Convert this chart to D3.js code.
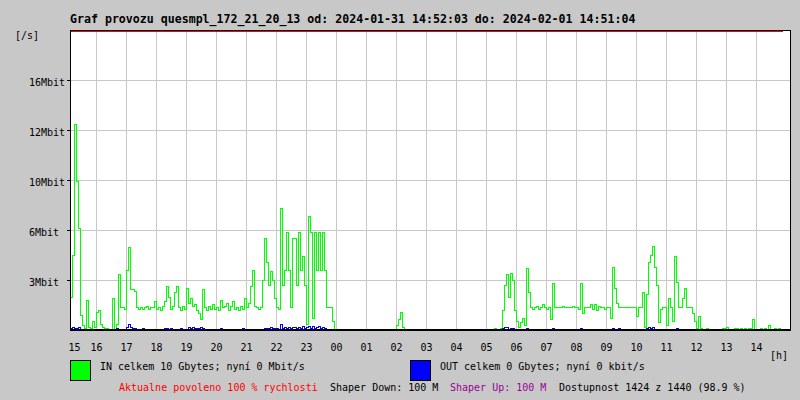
<!DOCTYPE html>
<html><head><meta charset="utf-8">
<script src="https://cdn.jsdelivr.net/npm/d3@7"></script>
<style>
html,body{margin:0;padding:0;background:#c8c8c8;}
svg{display:block;}
text{font-family:"DejaVu Sans Mono",monospace;font-size:10px;fill:#000;}
</style>
</head><body>
<svg id="c" width="800" height="400"></svg>
<script>
// ---------------- data ----------------
const title = "Graf provozu quesmpl_172_21_20_13 od: 2024-01-31 14:52:03 do: 2024-02-01 14:51:04";
const hourValues = [15,16,17,18,19,20,21,22,23,24,25,26,27,28,29,30,31,32,33,34,35,36,37,38];
const hourLabels = ["15","16","17","18","19","20","21","22","23","00","01","02","03","04","05","06","07","08","09","10","11","12","13","14"];
const yTickValues = [10/3, 20/3, 10, 40/3, 50/3];
const yTickLabels = ["3Mbit","6Mbit","10Mbit","12Mbit","16Mbit"];
const startHour = 15 + 7/60;      // left edge of the plot
const stepHours = 4/60;           // one sample per 4 minutes
// IN traffic (Mbit/s)
const inMbit = [
2.2,5.0,13.7,9.9,6.8,1.0,0.3,0.1,2.0,0.2,
0.1,0.6,0.2,1.2,1.3,0.4,0.2,0.1,0.1,0,
0,2.1,0,0.4,3.7,1.5,1.5,1.4,4.0,5.5,
2.7,2.7,2.6,1.5,1.4,1.5,1.4,1.5,1.6,1.4,
1.5,1.5,1.9,1.4,1.5,1.3,1.6,1.9,2.9,2.2,
1.4,1.6,2.5,2.9,1.5,1.3,1.6,1.4,2.8,1.8,
2.1,1.6,1.7,1.3,1.1,0.7,2.7,1.5,1.3,1.6,
1.4,1.7,1.4,1.5,1.3,2.0,1.5,1.6,1.8,1.3,
1.6,1.9,1.4,1.5,1.3,1.6,1.4,2.1,1.5,1.8,
2.9,4.0,1.6,1.5,1.4,1.5,3.3,6.1,4.5,3.0,
3.9,3.3,2.1,1.5,1.4,8.1,3.0,4.0,6.5,4.0,
1.5,6.1,6.1,3.0,6.5,4.0,4.9,3.0,0.4,7.6,
6.5,0.8,6.5,4.0,6.5,4.0,6.5,4.0,1.5,1.5,
1.5,0.6,0,0,0,0,0,0,0,0,
0,0,0,0,0,0,0,0,0,0,
0,0,0,0,0,0,0,0,0,0,
0,0,0,0.3,0.7,1.2,0.2,0,0,0,
0,0,0,0,0,0,0,0,0,0,
0,0,0,0,0,0,0,0,0,0,
0,0,0,0,0,0,0,0,0,0,
0,0,0,0,0,0,0,0,0,0,
0,0,0.1,0,0,0.1,1.3,3.0,3.7,2.2,
3.8,3.3,1.3,0.6,0.2,0.5,0.8,0.3,4.1,2.5,
1.5,1.4,1.5,1.6,1.4,1.5,1.7,1.5,1.4,1.5,
0.7,3.1,1.5,1.5,1.5,1.5,1.6,1.5,1.5,1.5,
1.5,1.6,1.5,1.5,1.4,3.1,1.1,1.5,1.5,1.5,
1.7,1.4,1.7,1.3,1.6,1.5,1.5,1.4,1.5,1.5,
0.8,4.2,2.8,1.8,1.5,1.5,1.5,1.5,1.5,1.5,
1.5,1.5,1.5,0.9,1.5,1.5,2.5,0.2,2.4,4.5,
5.0,5.6,4.2,3.0,0.5,1.4,1.5,1.5,0.3,2.1,
1.5,0.6,4.9,3.2,1.5,1.5,2.1,2.8,1.5,1.5,
1.5,1.1,0.6,0.1,0.9,0.1,0,0,0.1,0,
0,0,0,0,0,0,0.1,0.1,0.2,0,
0,0,0.1,0.1,0,0.1,0,0.1,0,0.1,
0.1,0.7,0,0,0,0.1,0,0.1,0,0.3,
0,0,0.1,0,0.1,0,0
];
// OUT traffic (Mbit/s)
const outMbit = [
0.1,0.15,0.1,0.1,0.15,0.05,0,0,0,0,
0,0,0,0,0,0,0,0,0,0,
0,0,0,0.1,0,0,0,0,0.15,0.35,
0.15,0.1,0.1,0,0,0,0.1,0,0,0,
0,0,0,0,0,0,0,0.1,0.1,0,
0.1,0,0,0,0,0.1,0,0,0,0.15,
0.1,0.15,0.1,0.1,0.1,0.15,0.1,0,0,0,
0,0,0,0,0,0.1,0,0,0,0,
0,0,0,0,0,0,0.1,0,0,0,
0,0,0,0,0,0,0,0.1,0.1,0.1,
0.15,0.1,0.1,0.1,0,0.35,0.1,0.2,0.1,0.2,
0.1,0.15,0.2,0.1,0.2,0.1,0.25,0.1,0.2,0.25,
0.1,0.25,0.1,0.2,0.25,0.1,0.2,0.1,0,0,
0,0,0,0,0,0,0,0,0,0,
0,0,0,0,0,0,0,0,0,0,
0,0,0,0,0,0,0,0,0,0,
0,0,0,0,0,0,0,0,0,0,
0,0,0,0,0,0,0,0,0,0,
0,0,0,0,0,0,0,0,0,0,
0,0,0,0,0,0,0,0,0,0,
0,0,0,0,0,0,0,0,0,0,
0,0,0,0,0,0,0.1,0.15,0.15,0,
0.1,0.1,0,0,0,0,0,0,0.1,0,
0,0,0,0,0,0,0,0,0,0,
0,0.1,0,0,0,0,0,0,0,0,
0,0,0,0,0,0.1,0,0,0,0,
0,0,0,0,0,0,0,0,0,0,
0,0.1,0,0,0.1,0,0,0,0,0,
0,0,0,0,0,0,0,0,0.1,0.15,
0.1,0.15,0,0,0,0,0,0,0,0,
0,0,0,0.1,0,0,0,0,0,0,
0,0,0,0,0,0,0,0,0,0,
0,0,0,0,0,0,0,0,0,0,
0,0,0,0,0,0,0,0,0,0,
0,0,0,0,0,0,0,0,0,0,
0,0,0,0,0,0,0
];
const legendLabels = ["IN celkem 10 Gbytes; nyní 0 Mbit/s", "OUT celkem 0 Gbytes; nyní 0 kbit/s"];
const legendColors = ["#00ff00", "#0000ff"];
const footerTexts = ["Aktualne povoleno 100 % rychlosti", "Shaper Down: 100 M", "Shaper Up: 100 M", "Dostupnost 1424 z 1440 (98.9 %)"];
const footerColors = ["#ff0000", "#000000", "#990099", "#000000"];
const yUnit = "[/s]";
const xUnit = "[h]";

// ---------------- drawing ----------------
const svg = d3.select("#c");
const P = {l:70, r:790, t:30, b:330};
const x = d3.scaleLinear().domain([startHour, startHour + 24]).range([P.l, P.r]);
const y = d3.scaleLinear().domain([0, 20]).range([P.b, P.t]);
const tOf = i => startHour + i * stepHours;

svg.append("rect").attr("width", 800).attr("height", 400).attr("fill", "#c8c8c8");
svg.append("rect").attr("x", P.l).attr("y", P.t).attr("width", P.r - P.l).attr("height", P.b - P.t).attr("fill", "#ffffff");

const grid = svg.append("g").attr("stroke", "#c8c8c8").attr("stroke-width", 1).attr("shape-rendering", "crispEdges");
grid.selectAll("line.v").data(hourValues.filter(h => x(h) > P.l)).join("line")
  .attr("x1", d => x(d)).attr("x2", d => x(d)).attr("y1", P.t).attr("y2", P.b);
grid.selectAll("line.h").data(yTickValues).join("line")
  .attr("x1", P.l).attr("x2", P.r).attr("y1", d => Math.round(y(d)) + 0.5).attr("y2", d => Math.round(y(d)) + 0.5);

const line = d3.line().x((d, i) => x(tOf(i)) + 0.5).y(d => y(d)).curve(d3.curveStepAfter);
svg.append("path").datum(inMbit).attr("d", line).attr("fill", "none")
  .attr("stroke", "#00ff00").attr("stroke-width", 1).attr("shape-rendering", "crispEdges");
svg.append("path").datum(outMbit).attr("d", line).attr("fill", "none")
  .attr("stroke", "#0000ff").attr("stroke-width", 1).attr("shape-rendering", "crispEdges");

const ax = svg.append("g").attr("shape-rendering", "crispEdges");
// limit line (clipped at top)
ax.append("line").attr("x1", P.l).attr("x2", x(tOf(inMbit.length - 1)) + 1).attr("y1", P.t + 1.5).attr("y2", P.t + 1.5).attr("stroke", "#ff0000");
ax.append("line").attr("x1", P.l).attr("x2", P.r + 1).attr("y1", P.t + 0.5).attr("y2", P.t + 0.5).attr("stroke", "#000");
ax.append("line").attr("x1", P.r + 0.5).attr("x2", P.r + 0.5).attr("y1", P.t).attr("y2", P.b).attr("stroke", "#000");
ax.append("line").attr("x1", P.l + 0.5).attr("x2", P.l + 0.5).attr("y1", P.t).attr("y2", P.b + 1).attr("stroke", "#000");
ax.append("line").attr("x1", P.l).attr("x2", P.r + 1).attr("y1", P.b).attr("y2", P.b).attr("stroke", "#000").attr("stroke-width", 2);
ax.selectAll("line.tk").data(yTickValues).join("line")
  .attr("x1", P.l - 3).attr("x2", P.l).attr("y1", d => Math.round(y(d)) + 0.5).attr("y2", d => Math.round(y(d)) + 0.5).attr("stroke", "#000");

// y labels
svg.selectAll("text.yl").data(yTickValues).join("text")
  .attr("x", 29).attr("y", d => y(d) + 6).text((d, i) => yTickLabels[i]);
svg.append("text").attr("x", 15).attr("y", 39).text(yUnit);
// x labels
svg.selectAll("text.xl").data(hourValues).join("text")
  .attr("text-anchor", "middle")
  .attr("x", d => Math.max(x(d), P.l + 4.5)).attr("y", 351).text((d, i) => hourLabels[i]);
svg.append("text").attr("x", 770).attr("y", 359).text(xUnit);
// title
svg.append("text").attr("x", 70).attr("y", 23).style("font-weight", "bold").style("font-size", "11.6px").text(title);
// legend
const lx = [70, 410];
legendLabels.forEach((lab, i) => {
  svg.append("rect").attr("x", lx[i] + 0.5).attr("y", 360.5).attr("width", 20).attr("height", 20)
    .attr("fill", legendColors[i]).attr("stroke", "#000").attr("shape-rendering", "crispEdges");
  svg.append("text").attr("x", lx[i] + 30).attr("y", 370).text(lab);
});
// footer
const fx = [119, 330, 450, 559];
footerTexts.forEach((t, i) => {
  svg.append("text").attr("x", fx[i]).attr("y", 391).style("fill", footerColors[i]).text(t);
});
</script>
</body></html>
